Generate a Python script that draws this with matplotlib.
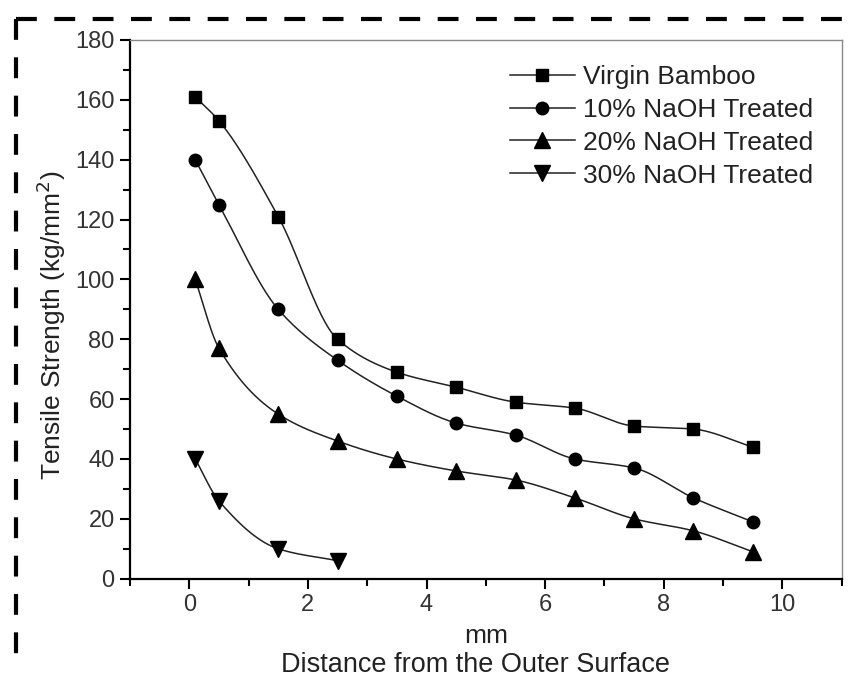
import numpy as np
import matplotlib
matplotlib.use("Agg")
import matplotlib.pyplot as plt
from matplotlib.lines import Line2D
from matplotlib.ticker import MultipleLocator

plt.rcParams['font.family'] = ['Liberation Sans', 'DejaVu Sans']

x_full = [0.1, 0.5, 1.5, 2.5, 3.5, 4.5, 5.5, 6.5, 7.5, 8.5, 9.5]
virgin = [161, 153, 121, 80, 69, 64, 59, 57, 51, 50, 44]
naoh10 = [140, 125, 90, 73, 61, 52, 48, 40, 37, 27, 19]
naoh20 = [100, 77, 55, 46, 40, 36, 33, 27, 20, 16, 9]
x_30 = [0.1, 0.5, 1.5, 2.5]
naoh30 = [40, 26, 10, 6]

labels = ["Virgin Bamboo", "10% NaOH Treated", "20% NaOH Treated", "30% NaOH Treated"]
markers = ["s", "o", "^", "v"]
msizes = [8, 9, 11, 11]


def smooth(x, y, n=30):
    """Monotone cubic Hermite (Fritsch-Carlson) curve for the connecting line."""
    x = np.asarray(x, float)
    y = np.asarray(y, float)
    h = np.diff(x)
    d = np.diff(y) / h
    m = np.zeros_like(y)
    m[0] = d[0]
    m[-1] = d[-1]
    for k in range(1, len(x) - 1):
        if d[k - 1] * d[k] <= 0:
            m[k] = 0.0
        else:
            w1 = 2 * h[k] + h[k - 1]
            w2 = h[k] + 2 * h[k - 1]
            m[k] = (w1 + w2) / (w1 / d[k - 1] + w2 / d[k])
    xs, ys = [], []
    for i in range(len(x) - 1):
        t = np.linspace(0, 1, n)
        h00 = 2 * t**3 - 3 * t**2 + 1
        h10 = t**3 - 2 * t**2 + t
        h01 = -2 * t**3 + 3 * t**2
        h11 = t**3 - t**2
        xs.append(x[i] + t * h[i])
        ys.append(h00 * y[i] + h10 * h[i] * m[i] + h01 * y[i + 1] + h11 * h[i] * m[i + 1])
    return np.concatenate(xs), np.concatenate(ys)


fig = plt.figure(figsize=(8.55, 6.79), dpi=100)
ax = fig.add_axes([0.152, 0.1477, 0.8325, 0.7934])

series = [(x_full, virgin), (x_full, naoh10), (x_full, naoh20), (x_30, naoh30)]
handles = []
for (xx, yy), lab, mk, ms in zip(series, labels, markers, msizes):
    sx, sy = smooth(xx, yy)
    ax.plot(sx, sy, color='#222222', lw=1.1)
    ax.plot(xx, yy, linestyle='none', marker=mk, markersize=ms, color='black')
    handles.append(Line2D([], [], color='#222222', lw=1.1, marker=mk, markersize=ms,
                          markerfacecolor='black', markeredgecolor='black'))

ax.set_xlim(-1, 11)
ax.set_ylim(0, 180)
ax.xaxis.set_major_locator(MultipleLocator(2))
ax.xaxis.set_minor_locator(MultipleLocator(1))
ax.yaxis.set_major_locator(MultipleLocator(20))
ax.yaxis.set_minor_locator(MultipleLocator(10))
ax.set_xticks([0, 2, 4, 6, 8, 10])
ax.tick_params(which='major', direction='out', length=7, width=1.5, labelsize=17,
               labelcolor='#333333', pad=4)
ax.tick_params(which='minor', direction='out', length=5, width=1.5)

for s in ['left', 'bottom']:
    ax.spines[s].set_linewidth(1.6)
    ax.spines[s].set_color('black')
for s in ['top', 'right']:
    ax.spines[s].set_linewidth(1.0)
    ax.spines[s].set_color('#888888')

ax.set_xlabel("mm", fontsize=19, color='#222222', labelpad=6)
ax.annotate("Distance from the Outer Surface", xy=(0.486, -0.160), xycoords='axes fraction',
            ha='center', va='center', fontsize=19.5, color='#222222', annotation_clip=False)
ax.set_ylabel("Tensile Strength (kg/mm$^2$)", fontsize=19, color='#222222')
ax.yaxis.set_label_coords(-0.087, 0.47)

leg = ax.legend(handles, labels, loc='upper left', frameon=False, fontsize=19,
                handlelength=2.45, handletextpad=0.3, labelspacing=0.34,
                bbox_to_anchor=(0.534, 0.954), borderaxespad=0.0, borderpad=0.0)
for t in leg.get_texts():
    t.set_color('#222222')

# dashed frame
fig.add_artist(Line2D([16 / 855, 1.0], [1 - 19 / 679, 1 - 19 / 679], transform=fig.transFigure,
                      color='black', lw=3, linestyle=(0, (5, 4.2))))
fig.add_artist(Line2D([16 / 855, 16 / 855], [1 - 19 / 679, 1 - 665 / 679], transform=fig.transFigure,
                      color='black', lw=3, linestyle=(0, (5, 4.2))))

fig.savefig("out.png", dpi=100)
